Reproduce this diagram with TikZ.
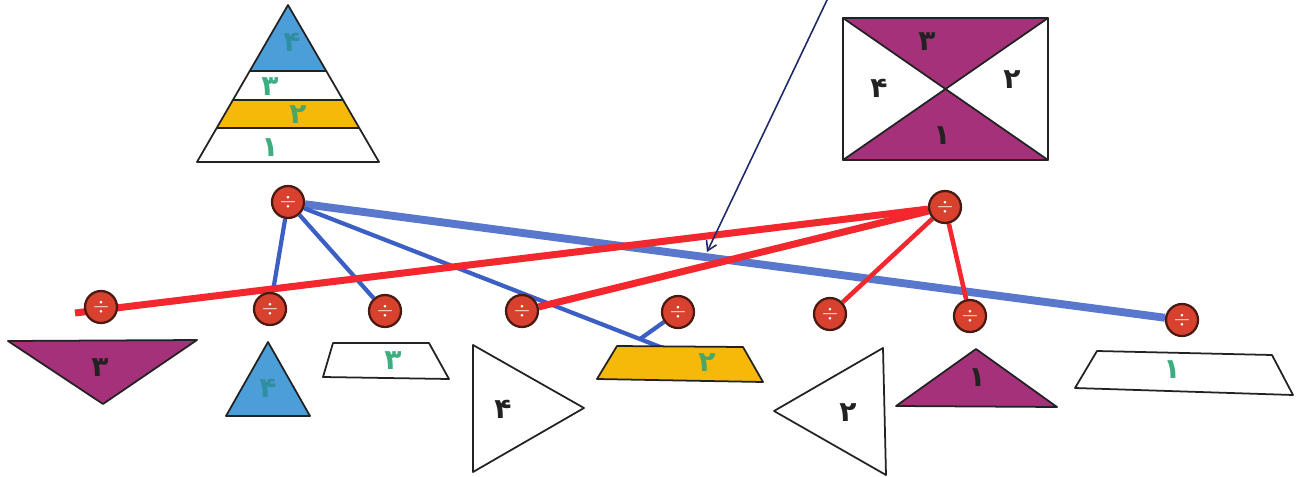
\documentclass[tikz,border=0pt]{standalone}
\usepackage{fontspec}
\usetikzlibrary{arrows.meta,backgrounds}
\newfontfamily\arabicfont[Script=Arabic]{DejaVu Sans}
\TeXXeTstate=1
\definecolor{btnred}{HTML}{D9412F}
\definecolor{btnedge}{HTML}{4A1A12}
\definecolor{redthread}{HTML}{F2282E}
\definecolor{bluethread}{HTML}{3B5FC4}
\definecolor{skyblue}{HTML}{4C9ED8}
\definecolor{amber}{HTML}{F6B90A}
\definecolor{plum}{HTML}{A5317A}
\definecolor{mint}{HTML}{3DAE80}
\definecolor{tealink}{HTML}{2F8FA0}
\definecolor{ink}{HTML}{222222}
\definecolor{navyink}{HTML}{1E2A6B}
\tikzset{
    every picture/.style={line cap=round,line join=round},
    button/.style={circle,draw=btnedge,fill=btnred,line width=1.3pt,
      minimum size=6.4mm,inner sep=0pt,text=white,font=\large},
    piece/.style={draw=ink,line width=1pt},
    digit/.style={font=\arabicfont\bfseries\fontsize{16}{16}\selectfont,inner sep=0pt,text=ink},
    redline/.style={draw=redthread,line width=4pt},
    redthin/.style={draw=redthread,line width=2.6pt},
    blueline/.style={draw=bluethread,line width=2.4pt},
    bluewide/.style={draw=bluethread!85,line width=4.5pt},
    pointer/.style={draw=navyink,line width=0.9pt,-{Straight Barb[length=1.8mm,width=2.2mm]}}
}
\begin{document}
\begin{tikzpicture}[x=0.02cm,y=-0.02cm]
    \useasboundingbox (0,0) rectangle (1306,477);
    % pyramid
    \begin{scope}
      \clip (288,5) -- (379,162) -- (197,162) -- cycle;
      \fill[skyblue] (190,0) rectangle (390,71);
      \fill[amber] (190,100) rectangle (390,128);
      \foreach \y in {71,100,128}
        \draw[piece] (190,\y) -- (390,\y);
    \end{scope}
    \draw[piece] (288,5) -- (379,162) -- (197,162) -- cycle;
    \node[digit,text=tealink] (py4) at (292,42) {\beginR ۴\endR};
    \node[digit,text=mint] (py3) at (270,87) {\beginR ۳\endR};
    \node[digit,text=mint!80!olive] (py2) at (298,115) {\beginR ۲\endR};
    \node[digit,text=mint] (py1) at (270,148) {\beginR ۱\endR};
    % rectangle
    \fill[plum] (843,18) -- (1048,18) -- (946,89) -- cycle;
    \fill[plum] (843,160) -- (1048,160) -- (946,89) -- cycle;
    \draw[piece] (843,18) rectangle (1048,160);
    \draw[piece] (843,18) -- (1048,160) (843,160) -- (1048,18);
    \node[digit] (re3) at (927,42) {\beginR ۳\endR};
    \node[digit] (re4) at (879,88) {\beginR ۴\endR};
    \node[digit] (re2) at (1012,80) {\beginR ۲\endR};
    \node[digit] (re1) at (942,136) {\beginR ۱\endR};
    % pieces
    \draw[piece,fill=plum] (8,341) -- (197,340) -- (103,404) -- cycle;
    \node[digit] (pc3) at (100,368) {\beginR ۳\endR};
    \draw[piece,fill=skyblue] (268,342) -- (310,416) -- (226,416) -- cycle;
    \node[digit,text=tealink] (pc4) at (268,388) {\beginR ۴\endR};
    \draw[piece] (333,343) -- (429,343) -- (449,379) -- (323,377) -- cycle;
    \node[digit,text=mint] (tr3) at (393,361) {\beginR ۳\endR};
    \draw[piece] (473,345) -- (584,408) -- (473,472) -- cycle;
    \node[digit] (wt4) at (503,409) {\beginR ۴\endR};
    \draw[piece,fill=amber] (617,346) -- (743,347) -- (763,382) -- (597,379) -- cycle;
    \node[digit,text=mint!80!olive] (tr2) at (707,363) {\beginR ۲\endR};
    \draw[piece] (774,411) -- (883,348) -- (886,475) -- cycle;
    \node[digit] (wt2) at (848,413) {\beginR ۲\endR};
    \draw[piece,fill=plum] (976,349) -- (1057,407) -- (896,406) -- cycle;
    \node[digit] (pc1) at (977,378) {\beginR ۱\endR};
    \draw[piece] (1097,351) -- (1272,355) -- (1293,395) -- (1075,388) -- cycle;
    \node[digit,text=mint] (tr1) at (1172,370) {\beginR ۱\endR};
    % buttons
    \foreach \n/\x/\y in {bt/288/202,rt/945/207,b1/101/307,b2/270/309,b3/385/311,
        b4/522/311,b5/678/312,b6/830/314,b7/970/316,b8/1182/320}
      \node[button] (\n) at (\x,\y) {$\div$};
    \coordinate (rend) at (75,313);
    \coordinate (ytop) at (668,350);
    \coordinate (bj) at (640,339);
    \coordinate (ptop) at (828,-2);
    \coordinate (ptip) at (707,252);
    % threads
    \begin{scope}[on background layer]
      \draw[bluewide] (bt) -- (b8);
      \foreach \t in {b2,b3,ytop}
        \draw[blueline] (bt) -- (\t);
      \draw[blueline] (b5) -- (bj);
      \draw[redline] (rend) -- (rt);
      \draw[redline] (rt) -- (b4);
      \foreach \t in {b6,b7}
        \draw[redthin] (rt) -- (\t);
    \end{scope}
    \draw[pointer] (ptop) -- (ptip);
\end{tikzpicture}
\end{document}
